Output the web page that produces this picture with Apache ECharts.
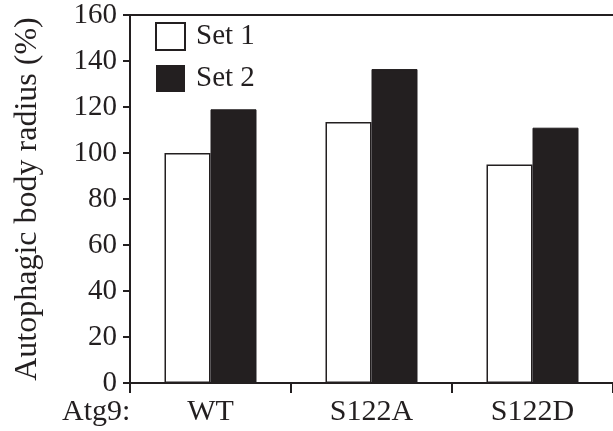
<!DOCTYPE html>
<html>
<head>
<meta charset="utf-8">
<script src="https://cdn.jsdelivr.net/npm/echarts@6/dist/echarts.min.js"></script>
<style>
html,body{margin:0;padding:0;background:#fff;}
#c{width:613px;height:431px;}
</style>
</head>
<body>
<div id="c"></div>
<script>
var categories = ['WT', 'S122A', 'S122D'];
var set1 = [100, 113.5, 95];
var set2 = [119, 136.5, 111];
var yTicks = [0, 20, 40, 60, 80, 100, 120, 140, 160];
var seriesNames = ['Set 1', 'Set 2'];
var xPrefix = 'Atg9:';
var yName = 'Autophagic body radius (%)';

var ink = '#231f20';
var font = 'Liberation Serif';
var chart = echarts.init(document.getElementById('c'), null, {renderer: 'canvas'});
chart.setOption({
  animation: false,
  backgroundColor: '#fff',
  textStyle: {fontFamily: font, color: ink},
  grid: {left: 130, top: 15, width: 489, height: 368, containLabel: false},
  legend: {
    orient: 'vertical', left: 150, top: 17,
    itemWidth: 29, itemHeight: 27, itemGap: 13,
    icon: 'rect',
    textStyle: {fontFamily: font, fontSize: 29, color: ink, padding: [0, 0, 0, 6]},
    data: [
      {name: seriesNames[0], itemStyle: {color: '#fff', borderColor: ink, borderWidth: 2}},
      {name: seriesNames[1], itemStyle: {color: ink, borderWidth: 0}}
    ]
  },
  xAxis: [{
    type: 'category', data: categories, position: 'bottom',
    axisLine: {lineStyle: {color: ink, width: 2}},
    axisTick: {show: true, length: 10, lineStyle: {color: ink, width: 2}, alignWithLabel: false},
    axisLabel: {fontFamily: font, fontSize: 30, color: ink, margin: 14},
    splitLine: {show: false}
  }, {
    type: 'category', data: categories, position: 'top',
    axisLine: {show: true, lineStyle: {color: ink, width: 2}},
    axisTick: {show: false}, axisLabel: {show: false}, splitLine: {show: false}
  }],
  yAxis: {
    type: 'value', min: yTicks[0], max: yTicks[yTicks.length - 1], interval: 20,
    name: yName, nameLocation: 'middle', nameGap: 86,
    nameTextStyle: {fontFamily: font, fontSize: 32, color: ink},
    axisLine: {show: true, lineStyle: {color: ink, width: 2}},
    axisTick: {show: true, length: 7, lineStyle: {color: ink, width: 2}},
    axisLabel: {fontFamily: font, fontSize: 29, color: ink, margin: 13},
    splitLine: {show: false}
  },
  graphic: [{
    type: 'text', left: 62, top: 397,
    style: {text: xPrefix, fontFamily: font, fontSize: 30, fill: ink}
  }],
  series: [{
    name: seriesNames[0], type: 'bar', data: set1, barWidth: 46, barGap: '0%',
    itemStyle: {color: '#fff', borderColor: ink, borderWidth: 1.5}
  }, {
    name: seriesNames[1], type: 'bar', data: set2, barWidth: 46, barGap: '0%',
    itemStyle: {color: ink, borderColor: ink, borderWidth: 1}
  }]
});
</script>
</body>
</html>
